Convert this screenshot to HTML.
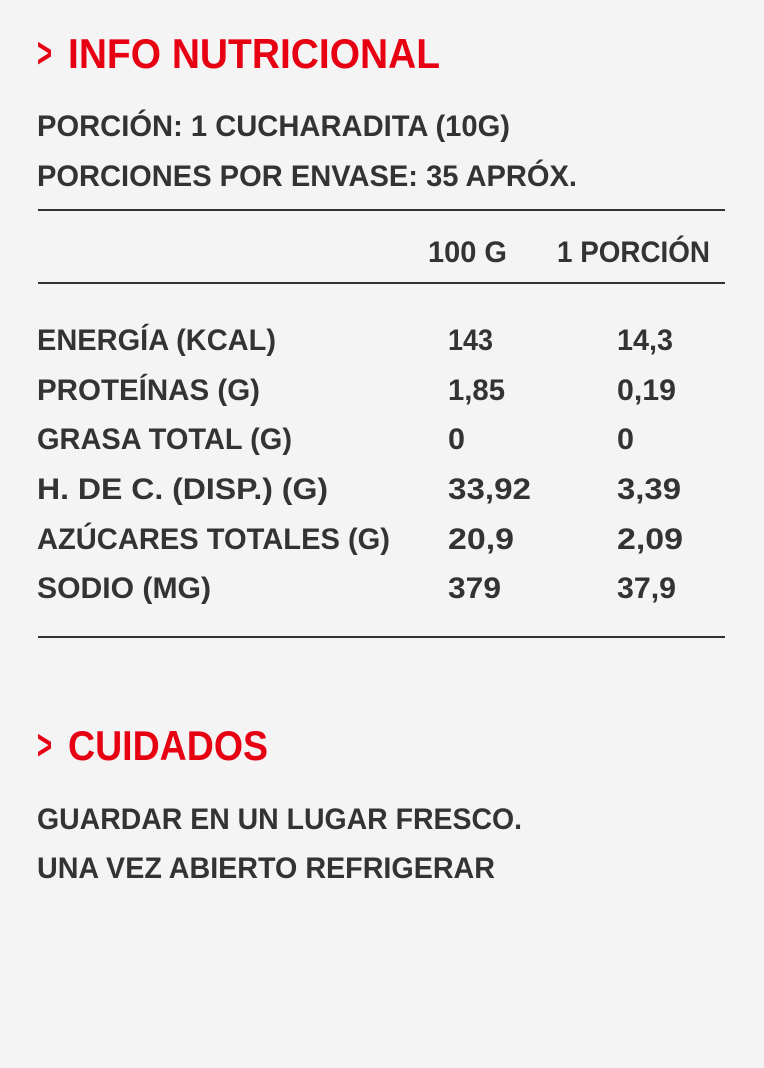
<!DOCTYPE html>
<html><head><meta charset="utf-8"><style>
html,body{margin:0;padding:0;background:#f4f4f4;}
svg{display:block;}
text{font-family:"Liberation Sans",sans-serif;font-weight:bold;}
.b{fill:#333;font-size:30px;}
.h{fill:#e60012;font-size:42px;}
</style></head><body>
<svg width="764" height="1068" viewBox="0 0 764 1068" xmlns="http://www.w3.org/2000/svg">
<rect width="764" height="1068" fill="#f4f4f4"/>
<text class="h" x="37" y="67" textLength="15" lengthAdjust="spacingAndGlyphs">&gt;</text>
<text class="h" x="68" y="68" textLength="372" lengthAdjust="spacingAndGlyphs">INFO NUTRICIONAL</text>
<text class="b" x="37" y="136" textLength="473" lengthAdjust="spacingAndGlyphs">PORCIÓN: 1 CUCHARADITA (10G)</text>
<text class="b" x="37" y="186" textLength="540" lengthAdjust="spacingAndGlyphs">PORCIONES POR ENVASE: 35 APRÓX.</text>
<line x1="38" y1="210" x2="725" y2="210" stroke="#333" stroke-width="2"/>
<text class="b" x="428" y="262" textLength="79" lengthAdjust="spacingAndGlyphs">100 G</text>
<text class="b" x="557" y="262" textLength="153" lengthAdjust="spacingAndGlyphs">1 PORCIÓN</text>
<line x1="38" y1="283" x2="725" y2="283" stroke="#333" stroke-width="2"/>
<g class="b">
<text class="b" x="37" y="350" textLength="239" lengthAdjust="spacingAndGlyphs">ENERGÍA (KCAL)</text>
<text class="b" x="448" y="350" textLength="45" lengthAdjust="spacingAndGlyphs">143</text>
<text class="b" x="617" y="350" textLength="56" lengthAdjust="spacingAndGlyphs">14,3</text>
<text class="b" x="37" y="400" textLength="223" lengthAdjust="spacingAndGlyphs">PROTEÍNAS (G)</text>
<text class="b" x="448" y="400" textLength="57" lengthAdjust="spacingAndGlyphs">1,85</text>
<text class="b" x="617" y="400" textLength="59" lengthAdjust="spacingAndGlyphs">0,19</text>
<text class="b" x="37" y="449" textLength="255" lengthAdjust="spacingAndGlyphs">GRASA TOTAL (G)</text>
<text class="b" x="448" y="449" textLength="17" lengthAdjust="spacingAndGlyphs">0</text>
<text class="b" x="617" y="449" textLength="17" lengthAdjust="spacingAndGlyphs">0</text>
<text class="b" x="37" y="499" textLength="291" lengthAdjust="spacingAndGlyphs">H. DE C. (DISP.) (G)</text>
<text class="b" x="448" y="499" textLength="83" lengthAdjust="spacingAndGlyphs">33,92</text>
<text class="b" x="617" y="499" textLength="64" lengthAdjust="spacingAndGlyphs">3,39</text>
<text class="b" x="37" y="549" textLength="353" lengthAdjust="spacingAndGlyphs">AZÚCARES TOTALES (G)</text>
<text class="b" x="448" y="549" textLength="66" lengthAdjust="spacingAndGlyphs">20,9</text>
<text class="b" x="617" y="549" textLength="66" lengthAdjust="spacingAndGlyphs">2,09</text>
<text class="b" x="37" y="598" textLength="174" lengthAdjust="spacingAndGlyphs">SODIO (MG)</text>
<text class="b" x="448" y="598" textLength="53" lengthAdjust="spacingAndGlyphs">379</text>
<text class="b" x="617" y="598" textLength="59" lengthAdjust="spacingAndGlyphs">37,9</text>
</g>
<line x1="38" y1="637" x2="725" y2="637" stroke="#333" stroke-width="2"/>
<text class="h" x="37" y="759" textLength="15" lengthAdjust="spacingAndGlyphs">&gt;</text>
<text class="h" x="68" y="760" textLength="200" lengthAdjust="spacingAndGlyphs">CUIDADOS</text>
<text class="b" x="37" y="829" textLength="485" lengthAdjust="spacingAndGlyphs">GUARDAR EN UN LUGAR FRESCO.</text>
<text class="b" x="37" y="878" textLength="458" lengthAdjust="spacingAndGlyphs">UNA VEZ ABIERTO REFRIGERAR</text>
</svg>
</body></html>
